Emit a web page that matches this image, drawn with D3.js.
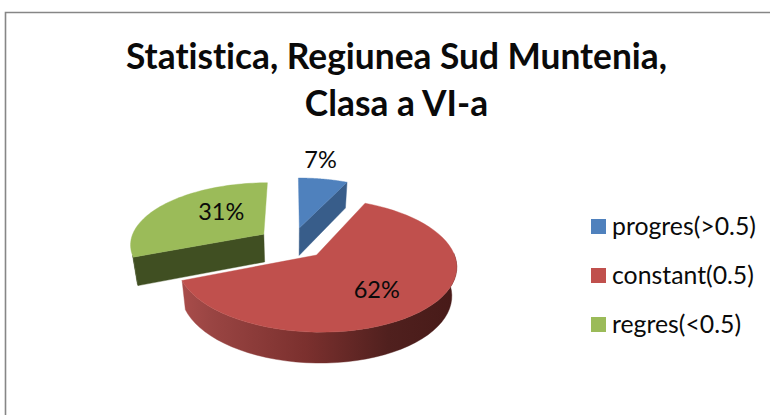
<!DOCTYPE html>
<html><head><meta charset="utf-8">
<script src="https://cdn.jsdelivr.net/npm/d3@7/dist/d3.min.js"></script>
<style>html,body{margin:0;padding:0;background:#fff}svg{display:block}text{font-family:Lato,"Open Sans",sans-serif;fill:#0a0a0a;font-variant-ligatures:none}</style>
</head><body><svg id="c" width="770" height="415"></svg>
<script>
const categories = ["progres(>0.5)", "constant(0.5)", "regres(<0.5)"];
const values = [7, 62, 31];
const colors = ["#4f81bd", "#c0504d", "#9bbb59"];
const wallColors = ["#385d8a", "#8a3836", "#404f22"];
const titleLines = ["Statistica, Regiunea Sud Muntenia,", "Clasa a VI-a"];

const svg = d3.select("#c");
// frame
svg.append("path").attr("d","M5.5 415V12.5H770").attr("fill","none").attr("stroke","#868686").attr("stroke-width",1.6);

// title
svg.selectAll("text.t").data(titleLines).join("text").attr("class","t")
  .attr("x",396.5).attr("y",(d,i)=>69+i*47).attr("text-anchor","middle")
  .attr("font-weight",700).attr("font-size",35.3).text(d=>d);

// pie in a tilted plane
const C=[292,243], rx=134, ry=61.6, k=0.15, depth=28, explode=0.26, shrink=0.97;
const project=(u,v,low)=>{
  const s=1/(1-k*v);
  const x=rx*u*s, y=ry*v*s;
  return low ? [C[0]+x*shrink, C[1]+y+depth*Math.sqrt(s)] : [C[0]+x, C[1]+y];
};
const pie=d3.pie().sort(null).value(d=>d);
const arcs=pie(values);
const line=d3.line();
const geo=arcs.map(a=>{
  const mid=(a.startAngle+a.endAngle)/2;
  const ox=Math.sin(mid)*explode, oy=-Math.cos(mid)*explode;
  const angles=d3.range(0,61).map(i=>a.startAngle+(a.endAngle-a.startAngle)*i/60);
  const rim=angles.map(t=>[ox+Math.sin(t),oy-Math.cos(t)]);
  return {a,mid,ox,oy,rim};
});
const defs=svg.append("defs");
const grad=defs.append("linearGradient").attr("id","redWall").attr("gradientUnits","userSpaceOnUse")
  .attr("x1",183).attr("x2",457).attr("y1",0).attr("y2",0);
[[0,"#a84c4a"],[0.1,"#9a4543"],[0.45,"#7b302e"],[0.75,"#50201e"],[1,"#471a18"]]
  .forEach(s=>grad.append("stop").attr("offset",s[0]).attr("stop-color",s[1]));

const order=[2,0,1];
order.forEach(i=>{
  const g=geo[i], apex=[g.ox,g.oy];
  const top=[apex,...g.rim].map(p=>project(p[0],p[1],false));
  const wall=(pts,fill)=>{
    const up=pts.map(p=>project(p[0],p[1],false));
    const lo=pts.map(p=>project(p[0],p[1],true)).reverse();
    svg.append("path").attr("d",line([...up,...lo])+"Z").attr("fill",fill).attr("stroke",fill).attr("stroke-width",0.4);
  };
  if(i===0) wall([g.rim[g.rim.length-1],apex], wallColors[0]);
  if(i===2) wall([g.rim[0],apex], wallColors[2]);
  if(i===2) wall(g.rim.filter(p=>project(p[0],p[1],false)[1]>255), wallColors[2]);
  if(i===1) wall(g.rim.filter(p=>p[1]>0.1), "url(#redWall)");
  svg.append("path").attr("d",line(top)+"Z").attr("fill",colors[i]).attr("stroke",colors[i]).attr("stroke-width",0.4);
});

// percentage labels
const labelRadius=[1.22,0.72,0.62];
const labelShift=[[-7,-10],[-16,-3],[20,-3]];
geo.forEach((g,i)=>{
  const p=project(g.ox+labelRadius[i]*Math.sin(g.mid),g.oy-labelRadius[i]*Math.cos(g.mid),false);
  svg.append("text").attr("x",p[0]+labelShift[i][0]).attr("y",p[1]+labelShift[i][1]).attr("dy","0.36em").attr("text-anchor","middle")
    .attr("font-size",23.5).text(values[i]+"%");
});

// legend
const ly=d3.scalePoint().domain(categories).range([226,324]);
categories.forEach((c,i)=>{
  svg.append("rect").attr("x",591).attr("y",ly(c)-7).attr("width",15).attr("height",15).attr("fill",colors[i]);
  svg.append("text").attr("x",612).attr("y",ly(c)).attr("dy","0.36em").attr("font-size",24.8).text(c);
});
</script></body></html>
